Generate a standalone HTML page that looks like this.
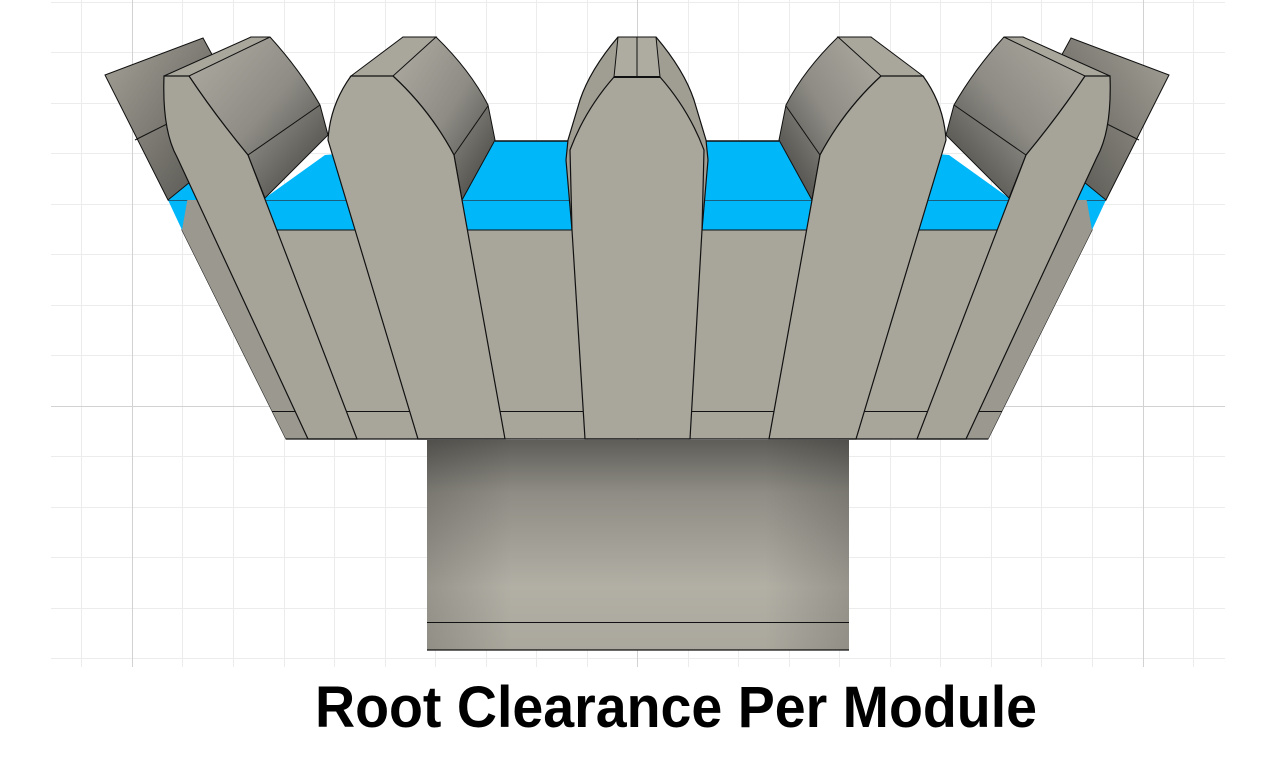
<!DOCTYPE html>
<html><head><meta charset="utf-8"><style>
html,body{margin:0;padding:0;background:#fff;width:1280px;height:768px;overflow:hidden}
</style></head><body>
<svg width="1280" height="768" viewBox="0 0 1280 768" xmlns="http://www.w3.org/2000/svg">
<defs>
<linearGradient id="hub" x1="0" y1="0" x2="0" y2="1">
<stop offset="0" stop-color="#5e5d58"/><stop offset="0.25" stop-color="#8e8c84"/><stop offset="0.7" stop-color="#b2afa5"/><stop offset="1" stop-color="#aaa79d"/>
</linearGradient>
<linearGradient id="hubx" x1="0" y1="0" x2="1" y2="0">
<stop offset="0" stop-color="#000" stop-opacity="0.15"/><stop offset="0.2" stop-color="#000" stop-opacity="0"/><stop offset="0.8" stop-color="#000" stop-opacity="0"/><stop offset="1" stop-color="#000" stop-opacity="0.15"/>
</linearGradient>
<linearGradient id="flank" x1="0" y1="0" x2="1" y2="1">
<stop offset="0" stop-color="#b0ada3"/><stop offset="0.5" stop-color="#8e8c85"/><stop offset="1" stop-color="#3e3e3b"/>
</linearGradient>
<linearGradient id="back" x1="0" y1="0" x2="1" y2="1">
<stop offset="0" stop-color="#a5a298"/><stop offset="1" stop-color="#55544f"/>
</linearGradient>
<g id="halfback">
<polygon points="168,200 190,180 200,200" fill="#00b7fa"/>
<path d="M105,75 L203,38 L215,60 L205,170 L190,182 L168,200 Z" fill="url(#back)" stroke="#111" stroke-width="1"/>
<line x1="135" y1="140" x2="175" y2="120" stroke="#111" stroke-width="1"/>
<path d="M189,76 L251,37 L270,37 Q300,70 320,105 L328,135 L265,198 L248,155 Q215,115 189,76 Z" fill="url(#flank)" stroke="#111" stroke-width="1"/>
<line x1="248" y1="155" x2="320" y2="105" stroke="#111" stroke-width="1"/>
<path d="M164,76 L251,37 L270,37 L189,76 Z" fill="#a9a69c" stroke="#111" stroke-width="1"/>
<path d="M393,76 L403,37 L436,37 Q470,70 488,105 L495,140 L462,200 L454,155 Q430,110 393,76 Z" fill="url(#flank)" stroke="#111" stroke-width="1"/>
<line x1="454" y1="155" x2="488" y2="106" stroke="#111" stroke-width="1"/>
<path d="M351,76 L403,37 L436,37 L393,76 Z" fill="#a9a69c" stroke="#111" stroke-width="1"/>
</g>
<g id="halfcenter">
<path d="M637,37 L618,37 Q590,70 580,100 L568,140 L566,160 L572,230 L637,230 Z" fill="#a09d93"/>
<path d="M618,37 Q590,70 580,100 L568,140 L566,160 L572,230" fill="none" stroke="#111" stroke-width="1.2"/>
<path d="M637,37 L618,37 L614,77 L637,77 Z" fill="#aeaba1" stroke="#111" stroke-width="1"/>
</g>
</defs>

<g stroke="#ececec" stroke-width="1">
<path d="M81.5,0V667M182.5,0V667M233.5,0V667M284.5,0V667M334.5,0V667M385.5,0V667M435.5,0V667M486.5,0V667M536.5,0V667M587.5,0V667M688.5,0V667M738.5,0V667M789.5,0V667M839.5,0V667M890.5,0V667M940.5,0V667M991.5,0V667M1041.5,0V667M1092.5,0V667M1193.5,0V667"/>
<path d="M51,2.5H1225M51,52.5H1225M51,103.5H1225M51,153.5H1225M51,204.5H1225M51,254.5H1225M51,305.5H1225M51,355.5H1225M51,456.5H1225M51,507.5H1225M51,557.5H1225M51,608.5H1225M51,658.5H1225"/>
</g>
<g stroke="#d2d2d2" stroke-width="1">
<path d="M132.5,0V667M637.5,0V667M1143.5,0V667M51,406.5H1225"/>
</g>

<polygon points="168,200 265,198 325,155 495,141 779,141 949,155 1009,198 1106,200 1092,230 182,230" fill="#00b7fa"/>
<line x1="168" y1="200.5" x2="1106" y2="200.5" stroke="#1a5f80" stroke-width="1"/>
<line x1="182" y1="230.5" x2="1092" y2="230.5" stroke="#1a4f6a" stroke-width="1"/>
<line x1="495" y1="141" x2="779" y2="141" stroke="#111" stroke-width="1.5"/>

<polygon points="182,230 1092,230 988,439 286,439" fill="#a8a59b" stroke="#111" stroke-width="1"/>
<polygon points="182,230 286,439 308,439 190,185" fill="#9a988f"/>
<polygon points="1092,230 988,439 966,439 1084,185" fill="#9a988f"/>
<line x1="272" y1="411.5" x2="1002" y2="411.5" stroke="#111" stroke-width="1"/>

<use href="#halfback"/>
<use href="#halfback" transform="translate(1274,0) scale(-1,1)"/>

<path d="M164,76 Q162,130 177,157 L308,439 L357,439 L248,155 Q215,115 189,76 Z" fill="#a6a399" stroke="#111" stroke-width="1.2"/>
<path d="M351,76 Q330,105 328,140 L418,439 L505,439 L462,200 L454,155 Q430,110 393,76 Z" fill="#a9a69b" stroke="#111" stroke-width="1.2"/>
<path d="M923,76 Q944,105 946,140 L856,439 L769,439 L812,200 L820,155 Q844,110 881,76 Z" fill="#a9a69b" stroke="#111" stroke-width="1.2"/>
<path d="M1110,76 Q1112,130 1097,157 L966,439 L917,439 L1026,155 Q1059,115 1085,76 Z" fill="#a6a399" stroke="#111" stroke-width="1.2"/>

<use href="#halfcenter"/>
<use href="#halfcenter" transform="translate(1274,0) scale(-1,1)"/>

<path d="M614,77 Q585,110 570,150 L572,230 L585,439 L690,439 L702,230 L704,150 Q689,110 660,77 Z" fill="#a9a69b" stroke="#111" stroke-width="1.2"/>
<line x1="614" y1="77" x2="660" y2="77" stroke="#111" stroke-width="2"/>

<line x1="286" y1="439" x2="988" y2="439" stroke="#111" stroke-width="1.2"/>

<rect x="427" y="440" width="422" height="210" fill="url(#hub)"/>
<rect x="427" y="440" width="422" height="210" fill="url(#hubx)"/>
<line x1="427" y1="622.5" x2="849" y2="622.5" stroke="#111" stroke-width="1"/>
<line x1="427" y1="650" x2="849" y2="650" stroke="#111" stroke-width="1.2"/>

<text x="315" y="727" font-family="Liberation Sans, Arial, sans-serif" font-weight="bold" font-size="58" textLength="722" lengthAdjust="spacingAndGlyphs" fill="#000">Root Clearance Per Module</text>
</svg>
</body></html>
